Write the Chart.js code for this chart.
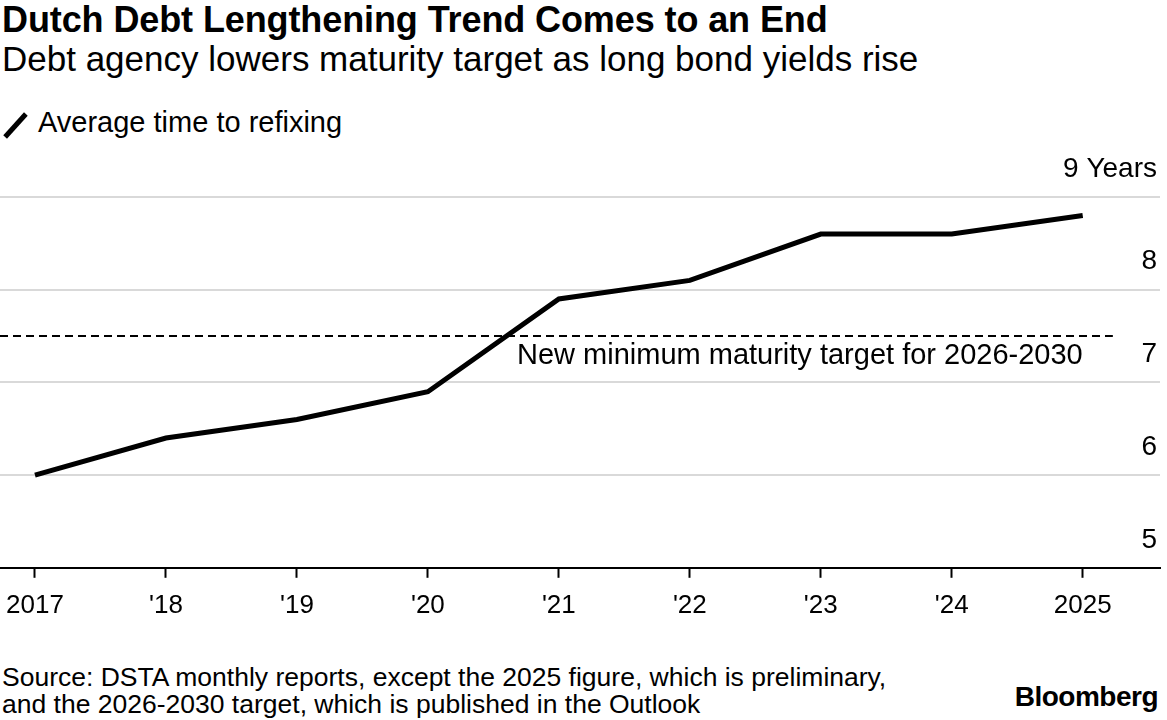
<!DOCTYPE html>
<html>
<head>
<meta charset="utf-8">
<script src="https://cdn.jsdelivr.net/npm/chart.js@4"></script>
<style>
  html, body { margin: 0; padding: 0; background: #fff; }
  body { width: 1167px; height: 720px; position: relative; overflow: hidden;
         font-family: "Liberation Sans", Arial, sans-serif; color: #000; }
  .title { position: absolute; left: 2px; top: -1px; font-size: 36px; font-weight: bold; letter-spacing: -0.1px; white-space: nowrap; }
  .subtitle { position: absolute; left: 2px; top: 39px; font-size: 35px; white-space: nowrap; }
  .legend { position: absolute; left: 4px; top: 106px; font-size: 29px; }
  .legend .icon { display: inline-block; width: 31px; height: 5px; background: #000;
                  transform: rotate(-48deg); position: absolute; left: -4px; top: 17px; }
  .legend .text { position: absolute; left: 34px; top: 0; white-space: nowrap; }
  .source { position: absolute; left: 2px; top: 664px; font-size: 26.5px; line-height: 27px; white-space: nowrap; }
  .brand { position: absolute; right: 9px; top: 681px; font-size: 28px; font-weight: bold; letter-spacing: -0.5px; }
  #wrap { position: absolute; left: 0; top: 140px; width: 1167px; height: 500px; }
</style>
</head>
<body>
<div class="title">Dutch Debt Lengthening Trend Comes to an End</div>
<div class="subtitle">Debt agency lowers maturity target as long bond yields rise</div>
<div class="legend"><span class="icon"></span><span class="text">Average time to refixing</span></div>
<div id="wrap"><canvas id="chart"></canvas></div>
<div class="source">Source: DSTA monthly reports, except the 2025 figure, which is preliminary,<br>and the 2026-2030 target, which is published in the Outlook</div>
<div class="brand">Bloomberg</div>
<script>
const years = [2017, 2018, 2019, 2020, 2021, 2022, 2023, 2024, 2025];
const yearLabels = ['2017', "'18", "'19", "'20", "'21", "'22", "'23", "'24", '2025'];
const refixing = [6.0, 6.4, 6.6, 6.9, 7.9, 8.1, 8.6, 8.6, 8.8];
const yTicks = [5, 6, 7, 8, 9];
const yTickLabels = ['5', '6', '7', '8', '9 Years'];
const minTarget = [7.5];
const targetLabel = 'New minimum maturity target for 2026-2030';

const font = '"Liberation Sans", Arial, sans-serif';

// dashed target line plus its label
const targetLine = {
  id: 'targetLine',
  afterDatasetsDraw(chart) {
    const { ctx, chartArea, scales } = chart;
    const y = scales.y.getPixelForValue(minTarget[0]);
    const xEnd = scales.x.getPixelForValue(2025.23);
    ctx.save();
    ctx.strokeStyle = '#000';
    ctx.lineWidth = 2;
    ctx.setLineDash([8, 5]);
    ctx.beginPath();
    ctx.moveTo(chartArea.left, y);
    ctx.lineTo(xEnd, y);
    ctx.stroke();
    ctx.setLineDash([]);
    ctx.fillStyle = '#000';
    ctx.font = '29px ' + font;
    ctx.textAlign = 'right';
    ctx.textBaseline = 'middle';
    ctx.fillText(targetLabel, scales.x.getPixelForValue(2025), y + 20);
    ctx.restore();
  }
};

new Chart(document.getElementById('chart'), {
  type: 'line',
  data: {
    datasets: [{
      label: 'Average time to refixing',
      data: years.map((yr, i) => ({ x: yr, y: refixing[i] })),
      borderColor: '#000',
      borderWidth: 5,
      pointRadius: 0,
      tension: 0,
      borderJoinStyle: 'miter',
      borderCapStyle: 'butt'
    }]
  },
  options: {
    responsive: true,
    maintainAspectRatio: false,
    animation: false,
    layout: { padding: { top: 57, right: 7, left: 0, bottom: 7 } },
    scales: {
      x: {
        type: 'linear',
        min: 2016.733,
        max: 2025.59,
        afterBuildTicks: scale => { scale.ticks = years.map(v => ({ value: v })); },
        // labels may hang past the plot edges; don't let them shrink it
        afterFit: scale => { scale.paddingLeft = 0; scale.paddingRight = 0; },
        grid: { drawOnChartArea: false, drawTicks: true, tickLength: 10, tickColor: '#000', tickWidth: 2 },
        border: { color: '#000', width: 2 },
        ticks: {
          color: '#000',
          font: { family: font, size: 26 },
          padding: 12,
          maxRotation: 0,
          autoSkip: false,
          callback: v => yearLabels[years.indexOf(v)]
        }
      },
      y: {
        position: 'right',
        min: 5,
        max: 9,
        afterBuildTicks: scale => { scale.ticks = yTicks.map(v => ({ value: v })); },
        grid: { color: '#d9d9d9', lineWidth: 2, drawTicks: false },
        border: { display: false },
        ticks: {
          mirror: true,
          padding: -3,
          labelOffset: -28,
          color: '#000',
          font: { family: font, size: 28 },
          callback: v => yTickLabels[yTicks.indexOf(v)]
        }
      }
    },
    plugins: {
      legend: { display: false },
      tooltip: { enabled: false }
    }
  },
  plugins: [targetLine]
});
</script>
</body>
</html>
